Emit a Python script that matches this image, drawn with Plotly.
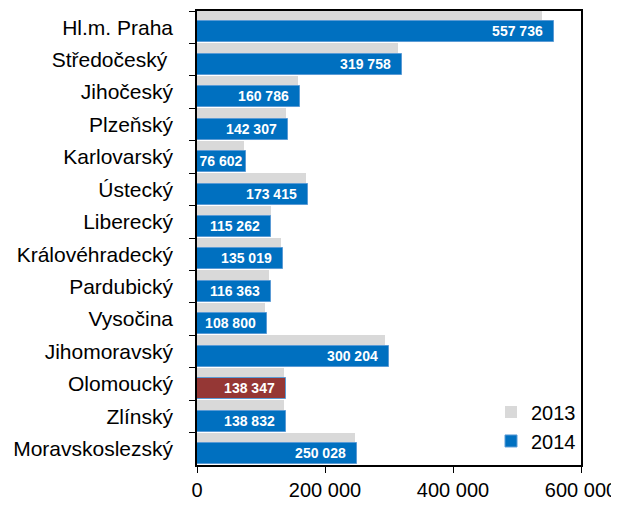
import plotly.graph_objects as go

kraje = ["Hl.m. Praha", "Středočeský ", "Jihočeský", "Plzeňský", "Karlovarský",
         "Ústecký", "Liberecký", "Královéhradecký", "Pardubický", "Vysočina",
         "Jihomoravský", "Olomoucký", "Zlínský", "Moravskoslezský"]
v2013 = [539500, 314500, 158200, 139200, 73500, 170800, 116000, 131900,
         113200, 105700, 294000, 135200, 135700, 246900]
v2014 = [557736, 319758, 160786, 142307, 76602, 173415, 115262, 135019,
         116363, 108800, 300204, 138347, 138832, 250028]

barvy_2014 = ["#0070c0"] * len(kraje)
barvy_2014[kraje.index("Olomoucký")] = "#953735"

# popisky s mezerou jako oddelovacem tisicu, u kratkeho sloupce bez odsazeni
popisky = [f"{v:,}".replace(",", " ") + ("\u00a0\u00a0" if v > 100000 else "")
           for v in v2014]

fig = go.Figure()
fig.add_trace(go.Bar(
    y=kraje, x=v2013, orientation="h", name="2013",
    marker=dict(color="#d9d9d9", line=dict(width=0)),
    width=0.66, offset=-0.5,
))
fig.add_trace(go.Bar(
    y=kraje, x=v2014, orientation="h", name="2014",
    marker=dict(color=barvy_2014, line=dict(color="#5b9bd5", width=1)),
    width=0.65, offset=-0.18,
    text=popisky, texttemplate="%{text}", textposition="inside", insidetextanchor="end",
    textfont=dict(family="Liberation Sans", size=14, color="white", weight="bold"),
    textangle=0,
))

# stranka ma okraj 8 px, proto mensi rozmery a okraje
fig.update_layout(
    width=611, height=502,
    margin=dict(l=189, r=38, t=3, b=45),
    barmode="overlay", bargap=0,
    separators=", ",
    paper_bgcolor="white", plot_bgcolor="white",
    font=dict(family="Liberation Sans", size=20, color="black"),
    showlegend=True,
    legend=dict(x=1.0, y=0.01, xanchor="right", yanchor="bottom",
                bgcolor="rgba(0,0,0,0)", font=dict(size=20),
                itemwidth=30, tracegroupgap=0),
    uniformtext=dict(mode="show", minsize=14),
)
fig.update_xaxes(
    range=[0, 600000], tickvals=[0, 200000, 400000, 600000],
    tickformat=",.0f", ticks="outside", ticklen=6, tickcolor="black",
    showline=True, linecolor="black", linewidth=1.5, mirror=True,
    showgrid=False, zeroline=False, automargin=False,
    tickfont=dict(size=20),
)
fig.update_yaxes(
    categoryorder="array", categoryarray=kraje, autorange="reversed",
    ticks="outside", tickson="boundaries", ticklen=6, tickcolor="black",
    showline=True, linecolor="black", linewidth=1.5, mirror=True,
    showgrid=False, ticklabelstandoff=18, automargin=False,
    tickfont=dict(size=21),
)

fig.write_html("out.html")
